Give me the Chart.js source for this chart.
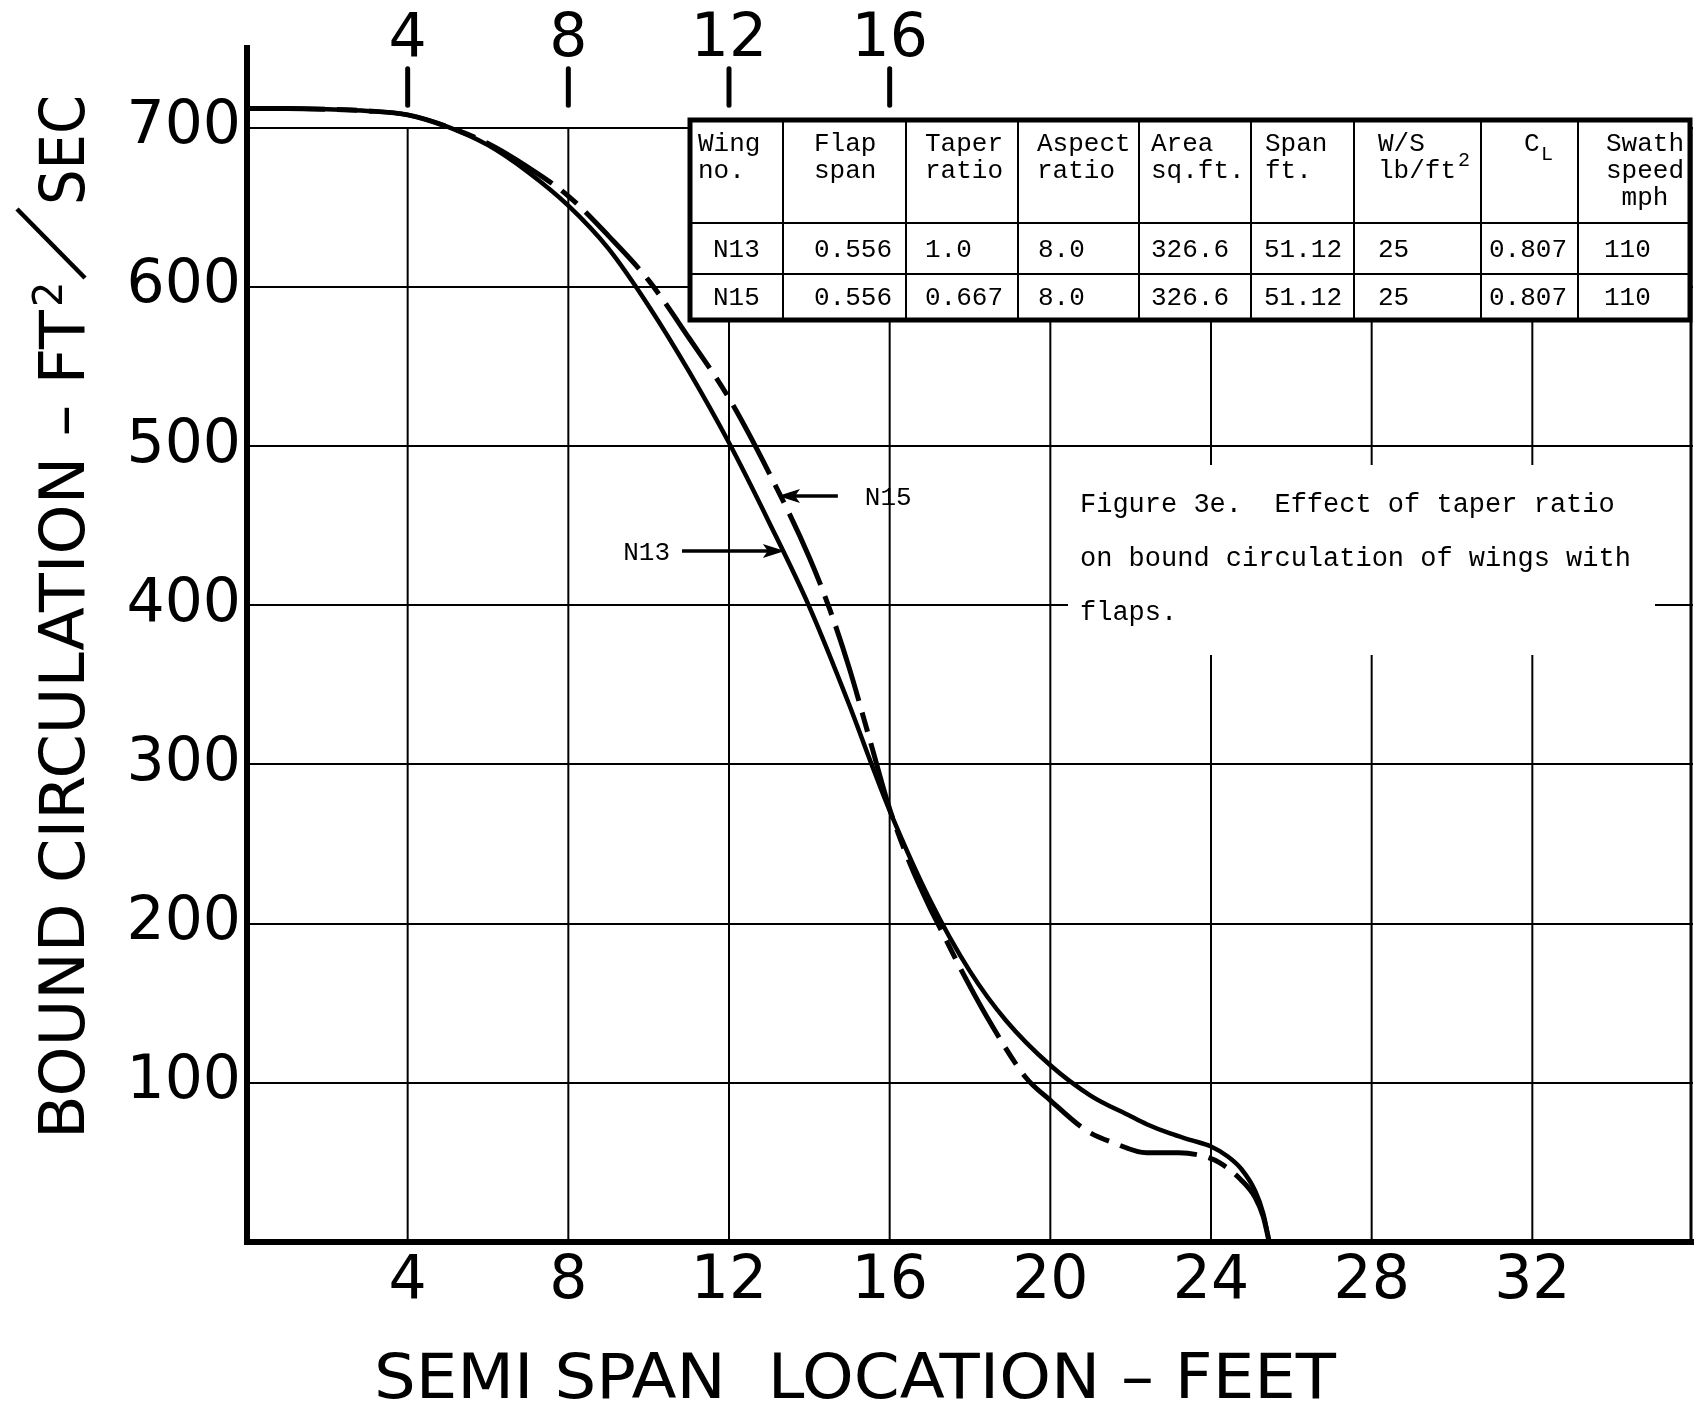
<!DOCTYPE html>
<html lang="en">
<head>
<meta charset="UTF-8">
<title>Bound circulation - taper ratio</title>
<script src="https://cdn.jsdelivr.net/npm/chart.js"></script>
<style>
  html, body { margin: 0; padding: 0; background: #fff; }
  canvas { display: block; }
</style>
</head>
<body>
<canvas id="circulationChart" width="1701" height="1405"></canvas>
<script>
// semi span location (ft) and bound circulation (ft^2/sec), wing N13 (taper 1.0)
const spanN13 = [0, 1, 2, 3, 4, 5, 6, 7, 8, 9, 10, 11, 12, 13, 14, 15, 15.55, 16, 17, 18, 18.9, 20, 21, 22, 22.4, 23, 23.5, 24, 24.4, 24.75, 25.1, 25.3, 25.45];
const gammaN13 = [712, 712, 711.5, 710.5, 708, 700.5, 689, 672, 651, 624, 588, 547, 502, 452, 399, 337, 300, 271, 215, 170, 139, 111, 92, 79, 74, 68, 64, 60, 54, 46, 32, 18, 0];

// wing N15 (taper 0.667)
const spanN15 = [0, 1, 2, 3, 4, 5, 6, 7, 8, 9, 10, 11, 12, 13, 14, 14.5, 15, 15.5, 16, 16.5, 17, 17.2, 17.8, 18.5, 19.4, 20, 20.9, 21.6, 22.4, 23.2, 23.8, 24.2, 24.75, 25.1, 25.3, 25.45];
const gammaN15 = [712, 712, 711.5, 710.5, 708, 700.5, 690, 675, 657, 632, 604, 568, 530, 483, 430, 398, 360, 316, 272, 238, 210, 200, 170, 138, 103, 89, 70, 62, 56, 56, 54, 50, 39, 28, 16, 0];

const spanTicks = [4, 8, 12, 16, 20, 24, 28, 32];
const topSpanTicks = [4, 8, 12, 16];
const circulationTicks = [0, 100, 200, 300, 400, 500, 600, 700];

const tableHead = [
  ['Wing', 'no.'], ['Flap', 'span'], ['Taper', 'ratio'], ['Aspect', 'ratio'],
  ['Area', 'sq.ft.'], ['Span', 'ft.'], ['W/S', 'lb/ft'], ['C'], ['Swath', 'speed', 'mph']
];
const tableRows = [
  ['N13', '0.556', '1.0', '8.0', '326.6', '51.12', '25', '0.807', '110'],
  ['N15', '0.556', '0.667', '8.0', '326.6', '51.12', '25', '0.807', '110']
];
const captionLines = [
  'Figure 3e.  Effect of taper ratio',
  'on bound circulation of wings with',
  'flaps.'
];

const ink = '#000';
const sans = "'DejaVu Sans', sans-serif";
const mono = "'Liberation Mono', monospace";

// table layout (px)
const tbl = {
  top: 120, head: 223, mid: 274, bottom: 320,
  cols: [690, 783, 906, 1018, 1139, 1251, 1354, 1481, 1578, 1690],
  headX: [698, 814, 925, 1037, 1151, 1265, 1378, 1524, 1606],
  cellX: [713, 814, 925, 1038, 1151, 1264, 1378, 1489, 1604],
  headBase: [151, 178, 205],
  rowBase: [257, 305]
};

// arrow callouts in data units
const callouts = [
  { text: 'N13', from: 10.83, to: 13.39, at: 434, side: 'left' },
  { text: 'N15', from: 14.71, to: 13.22, at: 468.6, side: 'right' }
];

function line(ctx, x1, y1, x2, y2) {
  ctx.beginPath();
  ctx.moveTo(x1, y1);
  ctx.lineTo(x2, y2);
  ctx.stroke();
}

function fitText(ctx, text, x, y, width) {
  const w = ctx.measureText(text).width;
  ctx.save();
  ctx.translate(x, y);
  ctx.scale(width / w, 1);
  ctx.fillText(text, 0, 0);
  ctx.restore();
}

const paper = {
  id: 'paper',
  beforeDatasetsDraw(chart) {
    const { ctx, scales: { x, y } } = chart;
    ctx.save();
    ctx.strokeStyle = ink;
    ctx.fillStyle = ink;

    // vertical rulings stop at the 700 line
    ctx.lineWidth = 2;
    spanTicks.forEach(v => {
      const px = x.getPixelForValue(v);
      line(ctx, px, y.getPixelForValue(700), px, y.getPixelForValue(0));
    });

    // caption block sits on a blank patch of the grid
    ctx.fillStyle = '#fff';
    ctx.fillRect(1068, 465, 587, 190);
    ctx.fillStyle = ink;
    ctx.font = '27px ' + mono;
    ctx.textAlign = 'left';
    ctx.textBaseline = 'alphabetic';
    captionLines.forEach((t, i) => ctx.fillText(t, 1080, 512 + i * 54));

    // right frame
    ctx.lineWidth = 3;
    const rx = x.getPixelForValue(36) - 2;
    line(ctx, rx, y.getPixelForValue(700), rx, y.getPixelForValue(0));

    // wing data table
    const L = tbl.cols[0], R = tbl.cols[tbl.cols.length - 1];
    ctx.fillStyle = '#fff';
    ctx.fillRect(L, tbl.top, R - L, tbl.bottom - tbl.top);
    ctx.lineWidth = 2;
    tbl.cols.slice(1, -1).forEach(cx => line(ctx, cx, tbl.top, cx, tbl.bottom));
    line(ctx, L, tbl.head, R, tbl.head);
    line(ctx, L, tbl.mid, R, tbl.mid);
    ctx.lineWidth = 5;
    ctx.strokeRect(L, tbl.top, R - L, tbl.bottom - tbl.top);

    ctx.fillStyle = ink;
    ctx.font = '26px ' + mono;
    tableHead.forEach((lines, c) => {
      lines.forEach((t, r) => {
        let tx = tbl.headX[c];
        if (c === 8) tx += (5 - t.length) * 7.8;
        ctx.fillText(t, tx, tbl.headBase[r]);
      });
    });
    ctx.font = '20px ' + mono;
    ctx.fillText('2', tbl.headX[6] + 80, 166);
    ctx.fillText('L', tbl.headX[7] + 17, 160);
    ctx.font = '26px ' + mono;
    tableRows.forEach((row, r) => {
      row.forEach((t, c) => ctx.fillText(t, tbl.cellX[c], tbl.rowBase[r]));
    });
    ctx.restore();
  },

  afterDatasetsDraw(chart) {
    const { ctx, scales: { x, y } } = chart;
    ctx.save();
    ctx.strokeStyle = ink;
    ctx.fillStyle = ink;

    // short marks and labels along the top
    ctx.lineWidth = 5;
    ctx.lineCap = 'round';
    ctx.font = '60px ' + sans;
    ctx.textAlign = 'center';
    ctx.textBaseline = 'middle';
    topSpanTicks.forEach(v => {
      const px = x.getPixelForValue(v);
      line(ctx, px, y.getPixelForValue(737), px, y.getPixelForValue(714));
      ctx.fillText(String(v), px, y.getPixelForValue(755));
    });

    // curve callouts
    ctx.lineCap = 'butt';
    ctx.font = '26px ' + mono;
    ctx.textBaseline = 'alphabetic';
    callouts.forEach(c => {
      const x0 = x.getPixelForValue(c.from);
      const x1 = x.getPixelForValue(c.to);
      const py = y.getPixelForValue(c.at);
      const dir = Math.sign(x1 - x0);
      ctx.lineWidth = 3.5;
      line(ctx, x0, py, x1 - dir * 14, py);
      ctx.beginPath();
      ctx.moveTo(x1, py);
      ctx.lineTo(x1 - dir * 22, py - 7);
      ctx.lineTo(x1 - dir * 17, py);
      ctx.lineTo(x1 - dir * 22, py + 7);
      ctx.closePath();
      ctx.fill();
      if (c.side === 'left') {
        ctx.textAlign = 'right';
        ctx.fillText(c.text, x0 - 12, py + 9);
      } else {
        ctx.textAlign = 'left';
        ctx.fillText(c.text, x0 + 27, py + 9);
      }
    });

    // axis titles
    ctx.textAlign = 'left';
    ctx.textBaseline = 'alphabetic';
    ctx.font = '62px ' + sans;
    fitText(ctx, 'SEMI SPAN  LOCATION \u2013 FEET', 374, 1398, 962);

    ctx.save();
    ctx.translate(84, 1139);
    ctx.rotate(-Math.PI / 2);
    fitText(ctx, 'BOUND CIRCULATION \u2013 FT', 0, 0, 829);
    ctx.font = '40px ' + sans;
    ctx.fillText('2', 832, -22);
    ctx.lineWidth = 4.5;
    line(ctx, 861, 1, 930, -67);
    ctx.font = '62px ' + sans;
    fitText(ctx, 'SEC', 934, 0, 110);
    ctx.restore();

    ctx.restore();
  }
};

const pts = (xs, ys) => xs.map((v, i) => ({ x: v, y: ys[i] }));

new Chart(document.getElementById('circulationChart'), {
  type: 'line',
  data: {
    datasets: [
      {
        label: 'N13',
        data: pts(spanN13, gammaN13),
        borderColor: ink,
        borderWidth: 4.5,
        pointRadius: 0,
        cubicInterpolationMode: 'monotone',
        fill: false
      },
      {
        label: 'N15',
        data: pts(spanN15, gammaN15),
        borderColor: ink,
        borderWidth: 5,
        borderDash: [78, 12, 20, 12],
        pointRadius: 0,
        cubicInterpolationMode: 'monotone',
        fill: false
      }
    ]
  },
  options: {
    responsive: false,
    animation: false,
    devicePixelRatio: 1,
    layout: { padding: { top: 48, right: 8, left: 0, bottom: 0 } },
    plugins: { legend: { display: false }, tooltip: { enabled: false } },
    scales: {
      x: {
        type: 'linear',
        min: 0,
        max: 36,
        afterBuildTicks: s => { s.ticks = spanTicks.map(v => ({ value: v })); },
        afterFit: s => { s.height = 163; },
        grid: { display: false, drawTicks: false },
        border: { display: true, color: ink, width: 6 },
        ticks: {
          color: ink,
          padding: 10,
          autoSkip: false,
          maxRotation: 0,
          font: { family: 'DejaVu Sans', size: 60, lineHeight: 1 }
        }
      },
      y: {
        type: 'linear',
        min: 0,
        max: 750,
        afterBuildTicks: s => { s.ticks = circulationTicks.map(v => ({ value: v })); },
        afterFit: s => { s.width = 247; },
        grid: { color: ink, lineWidth: 2, drawTicks: false },
        border: { display: true, color: ink, width: 6 },
        ticks: {
          color: ink,
          padding: 6,
          font: { family: 'DejaVu Sans', size: 60, lineHeight: 1 },
          callback: v => (v === 0 ? '' : String(v))
        }
      }
    }
  },
  plugins: [paper]
});
</script>
</body>
</html>
